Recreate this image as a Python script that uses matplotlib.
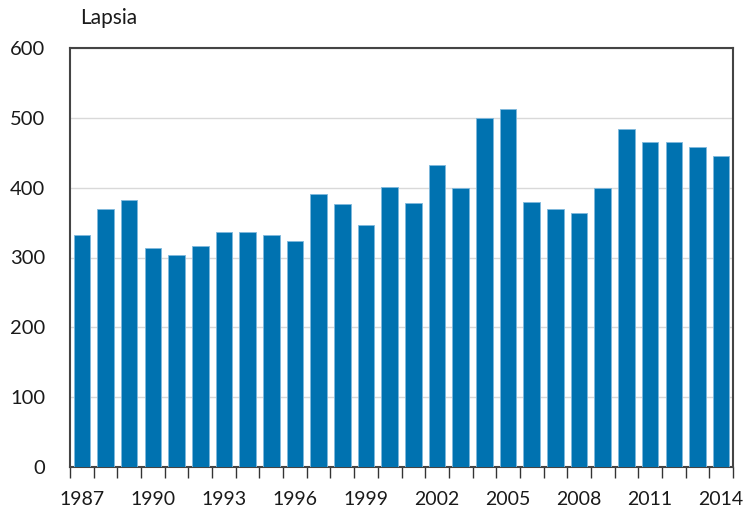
import matplotlib
matplotlib.use("Agg")
import matplotlib.pyplot as plt
import numpy as np

years = list(range(1987, 2015))
values = [332, 369, 382, 314, 304, 316, 337, 337, 332, 323,
          391, 376, 346, 401, 378, 433, 399, 500, 513, 380,
          369, 364, 399, 484, 465, 465, 458, 445]
y_ticks = [0, 100, 200, 300, 400, 500, 600]
x_label_years = [1987, 1990, 1993, 1996, 1999, 2002, 2005, 2008, 2011, 2014]
unit_label = "Lapsia"

plt.rcParams['font.family'] = ['Lato', 'DejaVu Sans']

fig = plt.figure(figsize=(7.47, 5.15), dpi=100)
ax = fig.add_axes([70/747, 1 - 467/515, 663/747, 419/515])

x = np.arange(len(years))
ax.bar(x, values, width=0.7, color='#0072B0', edgecolor='#7FB8DC', linewidth=0.6, zorder=3)

ax.set_xlim(-0.5, len(years) - 0.5)
ax.set_ylim(0, 600)
ax.set_yticks(y_ticks)
ax.set_yticklabels([str(v) for v in y_ticks], fontsize=14.5, color='#1A1A1A')
ax.tick_params(axis='y', length=0, pad=18)

ax.set_xticks([years.index(y) for y in x_label_years])
ax.set_xticklabels([str(y) for y in x_label_years], fontsize=14, color='#1A1A1A')
ax.set_xticks(np.arange(len(years) + 1) - 0.5, minor=True)
ax.tick_params(axis='x', which='major', length=0, pad=17)
ax.tick_params(axis='x', which='minor', length=8, width=1, color='#333333', direction='out')

ax.grid(axis='y', color='#D9D9D9', linewidth=1, zorder=0)
for s in ax.spines.values():
    s.set_color('#444444')
    s.set_linewidth(1.5)

fig.text(80/747, 1 - 18/515, unit_label, fontsize=15, color='#1A1A1A', va='center', ha='left')

fig.savefig("out.png", dpi=100)
